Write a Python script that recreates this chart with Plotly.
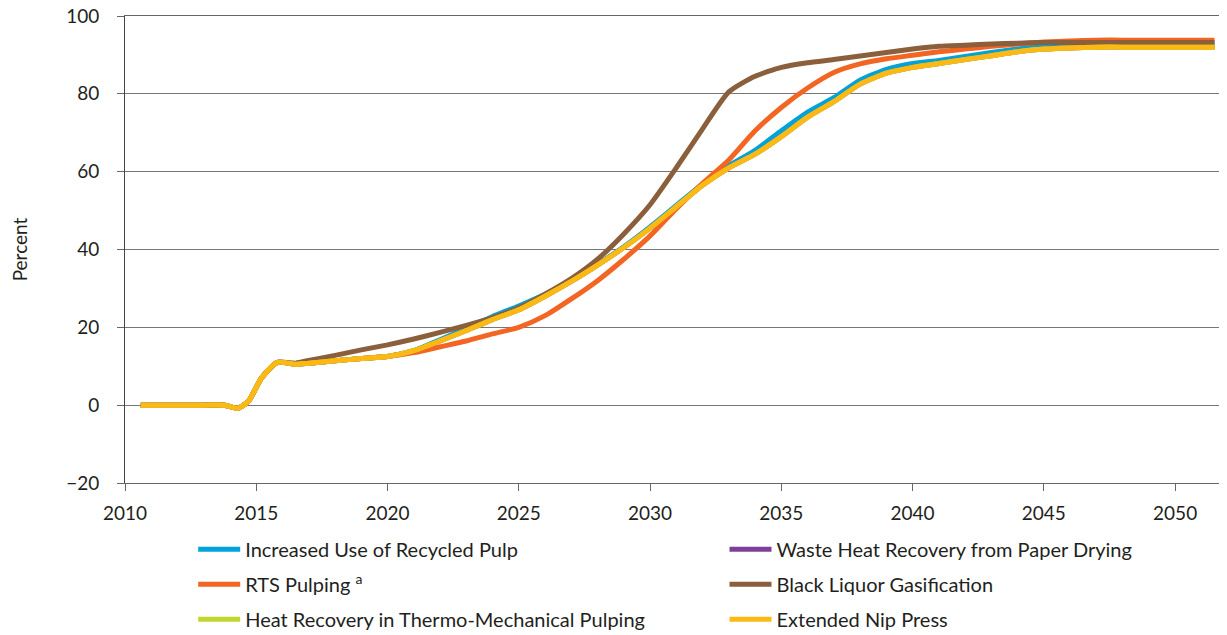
import plotly.graph_objects as go

years = [2010.6, 2011, 2012, 2013, 2013.8, 2014.3, 2014.7, 2015.2, 2015.8, 2016.5,
         2017, 2018, 2019, 2020, 2021, 2022, 2023, 2024, 2025, 2026,
         2027, 2028, 2029, 2030, 2031, 2032, 2033, 2034, 2035, 2036,
         2037, 2038, 2039, 2040, 2041, 2042, 2043, 2044, 2045, 2046,
         2047, 2048, 2049, 2050, 2051.5]

nip_press = [0, 0, 0, 0, 0, -0.8, 1, 7, 11, 10.5,
             10.8, 11.4, 12, 12.5, 14, 16.5, 19.2, 22, 24.5, 28,
             31.8, 36, 40.5, 45.5, 51, 56.5, 61, 64.5, 69, 74,
             78, 82.5, 85.3, 86.8, 87.8, 88.8, 89.8, 90.8, 91.5, 91.8,
             92, 92, 92, 92, 92]

recycled_pulp = [0, 0, 0, 0, 0, -0.8, 1, 7, 11, 10.5,
                 10.8, 11.4, 12, 12.5, 14, 16.8, 19.8, 22.8, 25.5, 28.5,
                 32, 36.2, 40.7, 45.8, 51.3, 56.8, 61.5, 65.5, 70.5, 75.3,
                 79, 83.5, 86.3, 87.8, 88.6, 89.6, 90.6, 91.5, 92.2, 92.5,
                 92.6, 92.6, 92.6, 92.6, 92.6]

rts_pulping = [0, 0, 0, 0, 0, -0.8, 1, 7, 11, 10.5,
               10.8, 11.4, 12, 12.5, 13.5, 15, 16.5, 18.3, 20, 23,
               27.3, 32, 37.5, 43.5, 50.5, 57, 63, 70.5, 76.5, 81.5,
               85.5, 87.7, 89, 89.9, 90.8, 91.5, 92.2, 92.8, 93.3, 93.6,
               93.8, 93.8, 93.8, 93.8, 93.8]

black_liquor = [0, 0, 0, 0, 0, -0.8, 1, 7, 11, 10.8,
                11.5, 12.8, 14.2, 15.5, 17, 18.7, 20.5, 22.5, 25, 28.5,
                32.5, 37.5, 44, 51.5, 61, 71, 80.5, 84.5, 86.8, 88,
                88.8, 89.7, 90.6, 91.5, 92.2, 92.5, 92.8, 93, 93.2, 93.2,
                93.2, 93.2, 93.2, 93.2, 93.2]

heat_recovery_tmp = list(nip_press)
waste_heat_drying = list(nip_press)

x_ticks = [2010, 2015, 2020, 2025, 2030, 2035, 2040, 2045, 2050]
y_ticks = [-20, 0, 20, 40, 60, 80, 100]
y_ticktext = ["\u221220", "0", "20", "40", "60", "80", "100"]

# (name, values, colour, legend column); drawing order keeps Extended Nip Press on top
series = [
    ("Increased Use of Recycled Pulp", recycled_pulp, "#00A3D9", "legend"),
    ("Waste Heat Recovery from Paper Drying", waste_heat_drying, "#7E3F98", "legend2"),
    ("RTS Pulping <sup>a</sup>", rts_pulping, "#F26522", "legend"),
    ("Black Liquor Gasification", black_liquor, "#8B5E3C", "legend2"),
    ("Heat Recovery in Thermo-Mechanical Pulping", heat_recovery_tmp, "#C2D62E", "legend"),
    ("Extended Nip Press", nip_press, "#FDB913", "legend2"),
]

fig = go.Figure()
for i, (name, vals, col, leg) in enumerate(series):
    fig.add_trace(go.Scatter(
        x=years, y=vals, name=name, mode="lines", legend=leg,
        legendgroup="g%d" % i,
        line=dict(color=col, width=5, shape="spline", smoothing=0.6),
    ))

font_family = "Lato, 'Open Sans', sans-serif"
leg_common = dict(
    orientation="v", yanchor="top", y=-0.10, xanchor="left",
    font=dict(size=20, color="#231F20"), tracegroupgap=6, itemwidth=42,
    bgcolor="rgba(0,0,0,0)", itemclick=False, itemdoubleclick=False,
)
fig.update_layout(
    width=1219, height=628,
    margin=dict(l=117, r=2, t=8, b=153, autoexpand=False),
    paper_bgcolor="white", plot_bgcolor="white",
    font=dict(family=font_family, size=19, color="#231F20"),
    showlegend=True,
    legend=dict(x=0.062, **leg_common),
    legend2=dict(x=0.545, **leg_common),
    xaxis=dict(
        range=[2010, 2051.9], tickmode="array", tickvals=x_ticks,
        ticks="outside", ticklen=7, tickcolor="#666", tickwidth=1,
        ticklabelstandoff=6, ticklabeloverflow="allow",
        showgrid=False, showline=True, linecolor="#666", linewidth=1,
        mirror=True, zeroline=False, tickfont=dict(size=19),
    ),
    yaxis=dict(
        range=[-20, 100], tickmode="array", tickvals=y_ticks, ticktext=y_ticktext,
        ticks="outside", ticklen=7, tickcolor="#666", tickwidth=1,
        ticklabelstandoff=14, ticklabeloverflow="allow",
        showgrid=True, gridcolor="#777", gridwidth=1,
        showline=True, linecolor="#444", linewidth=1, mirror=True,
        zeroline=False, tickfont=dict(size=19),
        title=dict(text="Percent", font=dict(size=19), standoff=34),
    ),
)

fig.write_html("out.html")
